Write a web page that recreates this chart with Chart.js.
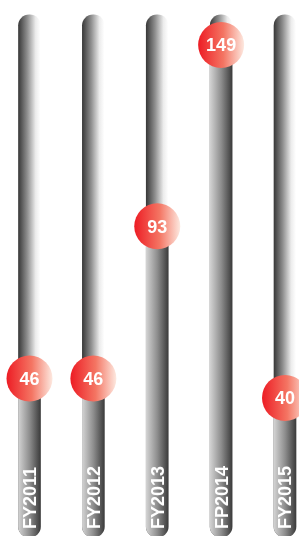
<!DOCTYPE html>
<html>
<head>
<meta charset="utf-8">
<script src="https://cdn.jsdelivr.net/npm/chart.js@4"></script>
<style>
  html, body { margin: 0; padding: 0; background: #ffffff; }
  canvas { display: block; }
</style>
</head>
<body>
<canvas id="c" width="299" height="536"></canvas>
<script>
// ---- data ----
const categories = ['FY2011', 'FY2012', 'FY2013', 'FP2014', 'FY2015'];
const values = [46, 46, 93, 149, 40];

// ---- config (scale range and tube extent, in value units) ----
const Y_MIN = -2.66;
const Y_MAX = 162.9;
const TUBE_LOW = -3.0;
const TUBE_HIGH = 158.3;

const FONT = '"Liberation Sans", Arial, Helvetica, sans-serif';

function hGrad(ctx, stops, halfW) {
  const chart = ctx.chart;
  if (!chart.chartArea || ctx.type !== 'data') return '#888';
  const cx = chart.scales.x.getPixelForValue(ctx.dataIndex);
  const g = chart.ctx.createLinearGradient(cx - halfW, 0, cx + halfW, 0);
  stops.forEach(s => g.addColorStop(s[0], s[1]));
  return g;
}

const trackStops = [[0, '#3a3a3a'], [0.4, '#8f8f8f'], [0.78, '#ececec'], [1, '#ffffff']];
const fillStops = [[0, '#d2d2d2'], [0.5, '#8e8e8e'], [1, '#3c3c3c']];
const dotStops = [[0, '#ed1c24'], [0.55, '#f47563'], [1, '#fde9e0']];

const textPlugin = {
  id: 'texts',
  afterDatasetsDraw(chart) {
    const c = chart.ctx;
    const xs = chart.scales.x;
    const meta = chart.getDatasetMeta(2);
    c.save();
    c.fillStyle = '#ffffff';
    c.font = 'bold 18px ' + FONT;
    c.textAlign = 'center';
    c.textBaseline = 'alphabetic';
    meta.data.forEach((pt, i) => {
      c.fillText(String(values[i]), pt.x, pt.y + 6.4);
    });
    c.textAlign = 'left';
    categories.forEach((lab, i) => {
      const cx = xs.getPixelForValue(i);
      c.save();
      c.translate(cx + 6.4, 529);
      c.rotate(-Math.PI / 2);
      c.fillText(lab, 0, 0);
      c.restore();
    });
    c.restore();
  }
};

new Chart(document.getElementById('c'), {
  type: 'bar',
  data: {
    datasets: [
      {
        label: 'track',
        data: categories.map((_, i) => ({ x: i, y: [TUBE_LOW, TUBE_HIGH] })),
        backgroundColor: ctx => hGrad(ctx, trackStops, 11),
        barThickness: 22,
        borderRadius: 11,
        borderSkipped: false,
        grouped: false,
        order: 3,
        clip: false
      },
      {
        label: 'fill',
        data: values.map((v, i) => ({ x: i, y: [TUBE_LOW, v] })),
        backgroundColor: ctx => hGrad(ctx, fillStops, 11),
        barThickness: 22,
        borderRadius: 11,
        borderSkipped: false,
        grouped: false,
        order: 2,
        clip: false
      },
      {
        type: 'line',
        label: 'dots',
        data: values.map((v, i) => ({ x: i, y: v })),
        showLine: false,
        pointRadius: 23,
        pointHoverRadius: 23,
        pointBorderWidth: 0,
        pointBackgroundColor: ctx => hGrad(ctx, dotStops, 23),
        order: 1,
        clip: false
      }
    ]
  },
  options: {
    responsive: false,
    animation: false,
    events: [],
    layout: { padding: 0, autoPadding: false },
    plugins: { legend: { display: false }, tooltip: { enabled: false } },
    scales: {
      x: { type: 'linear', display: false, offset: false, min: -0.4618, max: 4.2191 },
      y: { type: 'linear', display: false, min: Y_MIN, max: Y_MAX }
    }
  },
  plugins: [textPlugin]
});
</script>
</body>
</html>
